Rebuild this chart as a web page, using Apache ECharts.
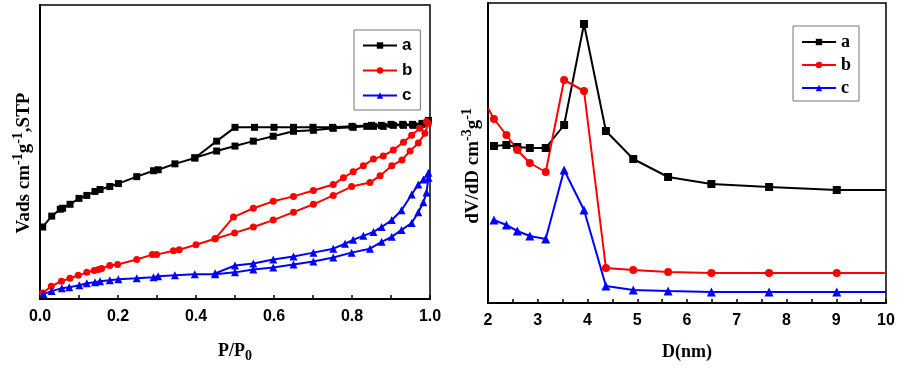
<!DOCTYPE html>
<html>
<head>
<meta charset="utf-8">
<script src="https://cdn.jsdelivr.net/npm/echarts@6/dist/echarts.min.js"></script>
<style>
  html, body { margin: 0; padding: 0; background: #fff; }
  #chart { width: 903px; height: 368px; }
</style>
</head>
<body>
<div id="chart"></div>
<script>
// 等温线 (P/P0, 吸附量) —— 吸附支 + 脱附支，连成一个回线
var isoA = [
  [0.007, 73], [0.030, 84], [0.052, 91], [0.058, 92], [0.077, 96], [0.100, 102],
  [0.120, 105], [0.141, 109], [0.154, 111], [0.179, 114], [0.201, 117], [0.248, 124],
  [0.291, 130], [0.303, 131], [0.346, 137], [0.397, 143], [0.453, 150], [0.500, 155],
  [0.547, 160], [0.598, 165], [0.650, 170], [0.701, 171], [0.752, 173], [0.803, 174],
  [0.838, 175], [0.855, 175], [0.880, 175], [0.906, 176], [0.932, 176], [0.957, 176],
  [0.979, 177], [0.996, 181],
  [0.980, 178], [0.955, 177], [0.930, 177], [0.900, 177], [0.875, 176], [0.850, 176],
  [0.800, 175], [0.750, 174], [0.700, 174], [0.650, 174], [0.600, 174], [0.550, 174],
  [0.500, 174], [0.453, 160], [0.397, 143]
];
var isoB = [
  [0.007, 6], [0.029, 13], [0.055, 18], [0.077, 21], [0.098, 24], [0.120, 27],
  [0.139, 29], [0.150, 30], [0.158, 31], [0.179, 34], [0.199, 35], [0.248, 40],
  [0.288, 45], [0.299, 45], [0.342, 49], [0.357, 50], [0.400, 55], [0.449, 61],
  [0.499, 67], [0.547, 73], [0.598, 80], [0.650, 88], [0.701, 96], [0.752, 105],
  [0.799, 114], [0.846, 118], [0.872, 125], [0.902, 135], [0.928, 141], [0.949, 150],
  [0.970, 158], [0.987, 168], [0.996, 178],
  [0.991, 180], [0.974, 173], [0.953, 166], [0.932, 159], [0.906, 151], [0.880, 145],
  [0.855, 142], [0.829, 135], [0.803, 129], [0.778, 123], [0.752, 116], [0.701, 110],
  [0.650, 104], [0.598, 99], [0.547, 92], [0.496, 83], [0.449, 61]
];
var isoC = [
  [0.009, 5], [0.030, 8], [0.056, 11], [0.075, 12], [0.101, 14], [0.120, 16],
  [0.141, 17], [0.154, 18], [0.179, 19], [0.201, 20], [0.248, 21], [0.291, 22],
  [0.303, 23], [0.346, 24], [0.397, 25], [0.449, 25], [0.500, 27], [0.547, 30],
  [0.598, 32], [0.650, 35], [0.701, 38], [0.752, 42], [0.799, 47], [0.846, 51],
  [0.876, 58], [0.902, 63], [0.927, 70], [0.953, 77], [0.970, 88], [0.983, 98],
  [0.991, 108], [0.996, 123],
  [0.996, 128], [0.983, 121], [0.970, 116], [0.953, 106], [0.927, 90], [0.902, 80],
  [0.876, 73], [0.855, 68], [0.829, 64], [0.803, 60], [0.782, 56], [0.752, 51],
  [0.701, 47], [0.650, 43], [0.598, 40], [0.547, 36], [0.500, 34], [0.449, 26]
];

// 孔径分布 (D nm, dV/dD)
var poreD = [2.12, 2.37, 2.59, 2.84, 3.16, 3.53, 3.93, 4.37, 4.92, 5.62, 6.49, 7.65, 9.01, 10.0];
var poreA = [157, 158, 156, 155, 155, 178, 279, 172, 144, 126, 119, 116, 113, 113];
var poreB = [184, 168, 153, 140, 131, 223, 212, 35, 33, 31, 30, 30, 30, 30];
var poreC = [83, 78, 72, 67, 64, 133, 93, 17, 13, 12, 11, 11, 11, 11];
var poreBStart = [2.0, 195];

var sans = "Liberation Sans";
var serif = "Liberation Serif";

function pairs(xs, ys) {
  return xs.map(function (x, i) {
    var p = { value: [x, ys[i]] };
    if (i === xs.length - 1) p.symbol = "none"; // 最后一段线延伸到边框，无标记
    return p;
  });
}

function xAxisBase(idx, min, max, interval, name, digits) {
  return {
    type: "value", gridIndex: idx, min: min, max: max, interval: interval,
    name: name, nameLocation: "middle", nameGap: 40,
    nameTextStyle: {
      fontFamily: serif, fontWeight: "bold", fontSize: 17, color: "#000",
      rich: {
        t: { fontFamily: serif, fontWeight: "bold", fontSize: 18, color: "#000" },
        sub: { fontFamily: serif, fontWeight: "bold", fontSize: 14, color: "#000", padding: [10, 0, 0, 0] }
      }
    },
    axisLine: { lineStyle: { color: "#000", width: 2 } },
    axisTick: { inside: true, length: 4, lineStyle: { color: "#000", width: 1.5 } },
    minorTick: { show: true, splitNumber: 2, length: 4, lineStyle: { color: "#000", width: 1.5 } },
    axisLabel: {
      fontFamily: sans, fontWeight: "bold", fontSize: 16, color: "#000", margin: 10,
      formatter: function (v) { return v.toFixed(digits); }
    },
    splitLine: { show: false }
  };
}

function yAxisBase(idx, max, name, shift, gap) {
  return {
    type: "value", gridIndex: idx, min: 0, max: max,
    name: name, nameLocation: "middle", nameGap: gap, nameRotate: 90,
    nameTextStyle: {
      rich: {
        t: { fontFamily: serif, fontWeight: "bold", fontSize: 19, color: "#000", lineHeight: 26 },
        sup: { fontFamily: serif, fontWeight: "bold", fontSize: 14, color: "#000", lineHeight: 26, verticalAlign: "top" },
        end: { fontFamily: serif, fontWeight: "bold", fontSize: 19, color: "#000", lineHeight: 26, padding: [0, shift, 0, 0] }
      }
    },
    axisLine: { show: true, lineStyle: { color: "#000", width: 2 } },
    axisTick: { show: false },
    axisLabel: { show: false },
    splitLine: { show: false }
  };
}

function lineSeries(name, color, symbol, size, x, y, data) {
  return {
    name: name, type: "line", xAxisIndex: x, yAxisIndex: y, data: data,
    symbol: symbol, symbolSize: size, clip: true,
    lineStyle: { color: color, width: 2 },
    itemStyle: { color: color },
    animation: false
  };
}

var chart = echarts.init(document.getElementById("chart"));
chart.setOption({
  backgroundColor: "#fff",
  grid: [
    { left: 40, top: 5, width: 390, height: 298, show: true, borderColor: "#000", borderWidth: 1.5 },
    { left: 488, top: 3, width: 398, height: 300, show: true, borderColor: "#000", borderWidth: 1.5 }
  ],
  legend: [
    {
      left: 354, top: 30, orient: "vertical", itemWidth: 34, itemHeight: 8, itemGap: 8,
      padding: [7, 8, 6, 8], borderColor: "#777", borderWidth: 1,
      textStyle: { fontFamily: sans, fontWeight: "bold", fontSize: 17, color: "#000" },
      data: ["a", "b", "c"]
    },
    {
      left: 793, top: 26, orient: "vertical", itemWidth: 34, itemHeight: 8, itemGap: 5,
      padding: [7, 8, 4, 8], borderColor: "#777", borderWidth: 1,
      textStyle: { fontFamily: serif, fontWeight: "bold", fontSize: 18, color: "#000" },
      data: ["a", "b", "c"]
    }
  ],
  xAxis: [
    xAxisBase(0, 0, 1, 0.2, "{t|P/P}{sub|0}", 1),
    xAxisBase(1, 2, 10, 1, "{t|D(nm)}", 0)
  ],
  yAxis: [
    yAxisBase(0, 298, "{t|Vads cm}{sup|-1}{t|g}{sup|-1}{end|,STP}", 22, 3),
    yAxisBase(1, 300, "{t|dV/dD cm}{sup|-3}{t|g}{sup|-1}{end|}", 26, 2)
  ],
  series: [
    lineSeries("a", "#000", "rect", 7, 0, 0, isoA),
    lineSeries("b", "#f00", "circle", 7, 0, 0, isoB),
    lineSeries("c", "#00f", "triangle", 8, 0, 0, isoC),
    lineSeries("a", "#000", "rect", 8, 1, 1, pairs(poreD, poreA)),
    lineSeries("b", "#f00", "circle", 8, 1, 1,
      [{ value: poreBStart, symbol: "none" }].concat(pairs(poreD, poreB))),
    lineSeries("c", "#00f", "triangle", 9, 1, 1, pairs(poreD, poreC))
  ]
});
</script>
</body>
</html>
